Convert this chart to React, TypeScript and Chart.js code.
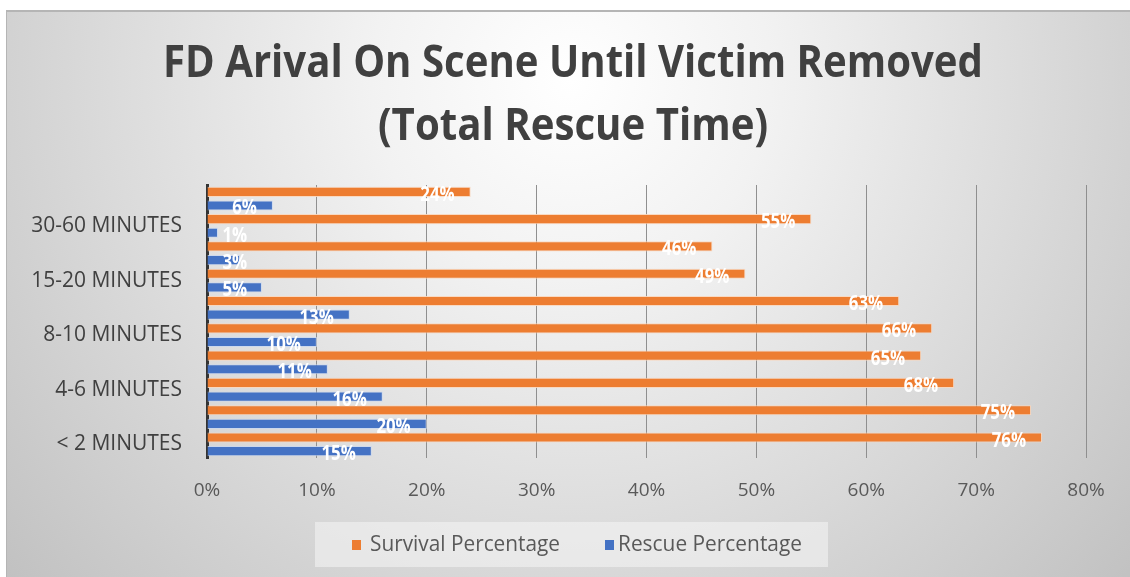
import React, { useEffect, useRef } from "react";
import { Chart, registerables } from "chart.js";

Chart.register(...registerables);

const categories = [
  "< 2 MINUTES",
  "2-4 MINUTES",
  "4-6 MINUTES",
  "6-8 MINUTES",
  "8-10 MINUTES",
  "10-15 MINUTES",
  "15-20 MINUTES",
  "20-30 MINUTES",
  "30-60 MINUTES",
  "> 60 MINUTES",
];
const survivalPct = [76, 75, 68, 65, 66, 63, 49, 46, 55, 24];
const rescuePct = [15, 20, 16, 11, 10, 13, 5, 3, 1, 6];
const titleLines = ["FD Arival On Scene Until Victim Removed", "(Total Rescue Time)"];
const seriesNames = ["Survival Percentage", "Rescue Percentage"];
const ORANGE = "#ED7D31";
const BLUE = "#4472C4";

function drawCondensed(ctx: CanvasRenderingContext2D, text: string, x: number, y: number, targetW: number, align: "left" | "center") {
  const w = ctx.measureText(text).width;
  const s = targetW / w;
  ctx.save();
  ctx.translate(x, y);
  ctx.scale(s, 1);
  ctx.textAlign = align;
  ctx.fillText(text, 0, 0);
  ctx.restore();
}

const bgPlugin = {
  id: "bgPlugin",
  beforeDraw(chart: any) {
    const { ctx, width, height } = chart;
    ctx.save();
    const g = ctx.createRadialGradient(565, 70, 0, 565, 70, 800);
    g.addColorStop(0, "#ffffff");
    g.addColorStop(0.25, "#f2f2f2");
    g.addColorStop(1, "#bdbdbd");
    ctx.fillStyle = g;
    ctx.fillRect(0, 0, width, height);
    ctx.fillStyle = "#b5b5b5";
    ctx.fillRect(0, 0, width, 2);
    ctx.fillRect(0, 0, 1, height);
    ctx.restore();
  },
};

const decorPlugin = {
  id: "decorPlugin",
  afterDraw(chart: any) {
    const ctx: CanvasRenderingContext2D = chart.ctx;
    ctx.save();
    // Title
    ctx.fillStyle = "#404040";
    ctx.textBaseline = "middle";
    ctx.font = "bold 44px 'Open Sans'";
    drawCondensed(ctx, titleLines[0], 567, 54, 820, "center");
    drawCondensed(ctx, titleLines[1], 567, 117, 390, "center");

    // Legend
    ctx.fillStyle = "rgba(245,245,245,0.55)";
    ctx.fillRect(309, 512, 513, 45);
    ctx.fillStyle = ORANGE;
    ctx.fillRect(346, 530, 9, 10);
    ctx.fillStyle = BLUE;
    ctx.fillRect(599, 530, 9, 10);
    ctx.fillStyle = "#595959";
    ctx.font = "21px 'Open Sans'";
    drawCondensed(ctx, seriesNames[0], 364, 535, 190, "left");
    drawCondensed(ctx, seriesNames[1], 612, 535, 184, "left");

    // Data labels
    ctx.fillStyle = "#ffffff";
    ctx.font = "bold 21px 'Open Sans'";
    chart.data.datasets.forEach((ds: any, di: number) => {
      const meta = chart.getDatasetMeta(di);
      meta.data.forEach((bar: any, i: number) => {
        const txt = ds.data[i] + "%";
        const w = ctx.measureText(txt).width * 0.8;
        let right = bar.x - 16;
        const minLeft = bar.base + 15;
        if (right - w < minLeft) right = minLeft + w;
        drawCondensed(ctx, txt, right - w, bar.y + 3, w, "left");
      });
    });
    ctx.restore();
  },
};

export default function App() {
  const ref = useRef<HTMLCanvasElement | null>(null);
  useEffect(() => {
    if (!ref.current) return;
    const chart = new Chart(ref.current, {
      type: "bar",
      data: {
        labels: categories,
        datasets: [
          {
            label: seriesNames[0],
            data: survivalPct,
            backgroundColor: ORANGE,
            borderColor: "rgba(250,215,190,0.9)",
            borderWidth: 1,
            categoryPercentage: 1,
            barPercentage: 0.74,
          },
          {
            label: seriesNames[1],
            data: rescuePct,
            backgroundColor: BLUE,
            borderColor: "rgba(200,215,240,0.8)",
            borderWidth: 1,
            categoryPercentage: 1,
            barPercentage: 0.74,
          },
        ],
      },
      options: {
        indexAxis: "y",
        responsive: false,
        animation: false,
        devicePixelRatio: 1,
        layout: { padding: { left: 0, right: 44, top: 175, bottom: 69 } },
        plugins: {
          legend: { display: false },
          title: { display: false },
          tooltip: { enabled: false },
        },
        scales: {
          x: {
            min: 0,
            max: 80,
            ticks: {
              stepSize: 10,
              callback: (v: any) => v + "%",
              color: "#595959",
              font: { family: "'Open Sans'", size: 19 },
              padding: 21,
              maxRotation: 0,
            },
            grid: { color: "#8f8f8f", lineWidth: 1, drawTicks: false },
            border: { display: false },
            afterFit: (s: any) => {
              s.height = 50;
            },
          },
          y: {
            reverse: true,
            ticks: {
              autoSkip: false,
              color: "#404040",
              font: { family: "'Open Sans'", size: 21 },
              padding: 25,
              callback: (_v: any, i: number) => (i % 2 === 0 ? categories[i] : ""),
            },
            grid: { display: false, drawTicks: false },
            border: { display: true, color: "#333333", width: 3 },
            afterFit: (s: any) => {
              s.width = 201;
            },
          },
        },
      },
      plugins: [bgPlugin, decorPlugin],
    });
    return () => chart.destroy();
  }, []);
  return (
    <div style={{ position: "fixed", left: 0, top: 0, width: 1130, height: 577, background: "#ffffff" }}>
      <canvas ref={ref} width={1124} height={567} style={{ position: "absolute", left: 6, top: 10 }} />
    </div>
  );
}
